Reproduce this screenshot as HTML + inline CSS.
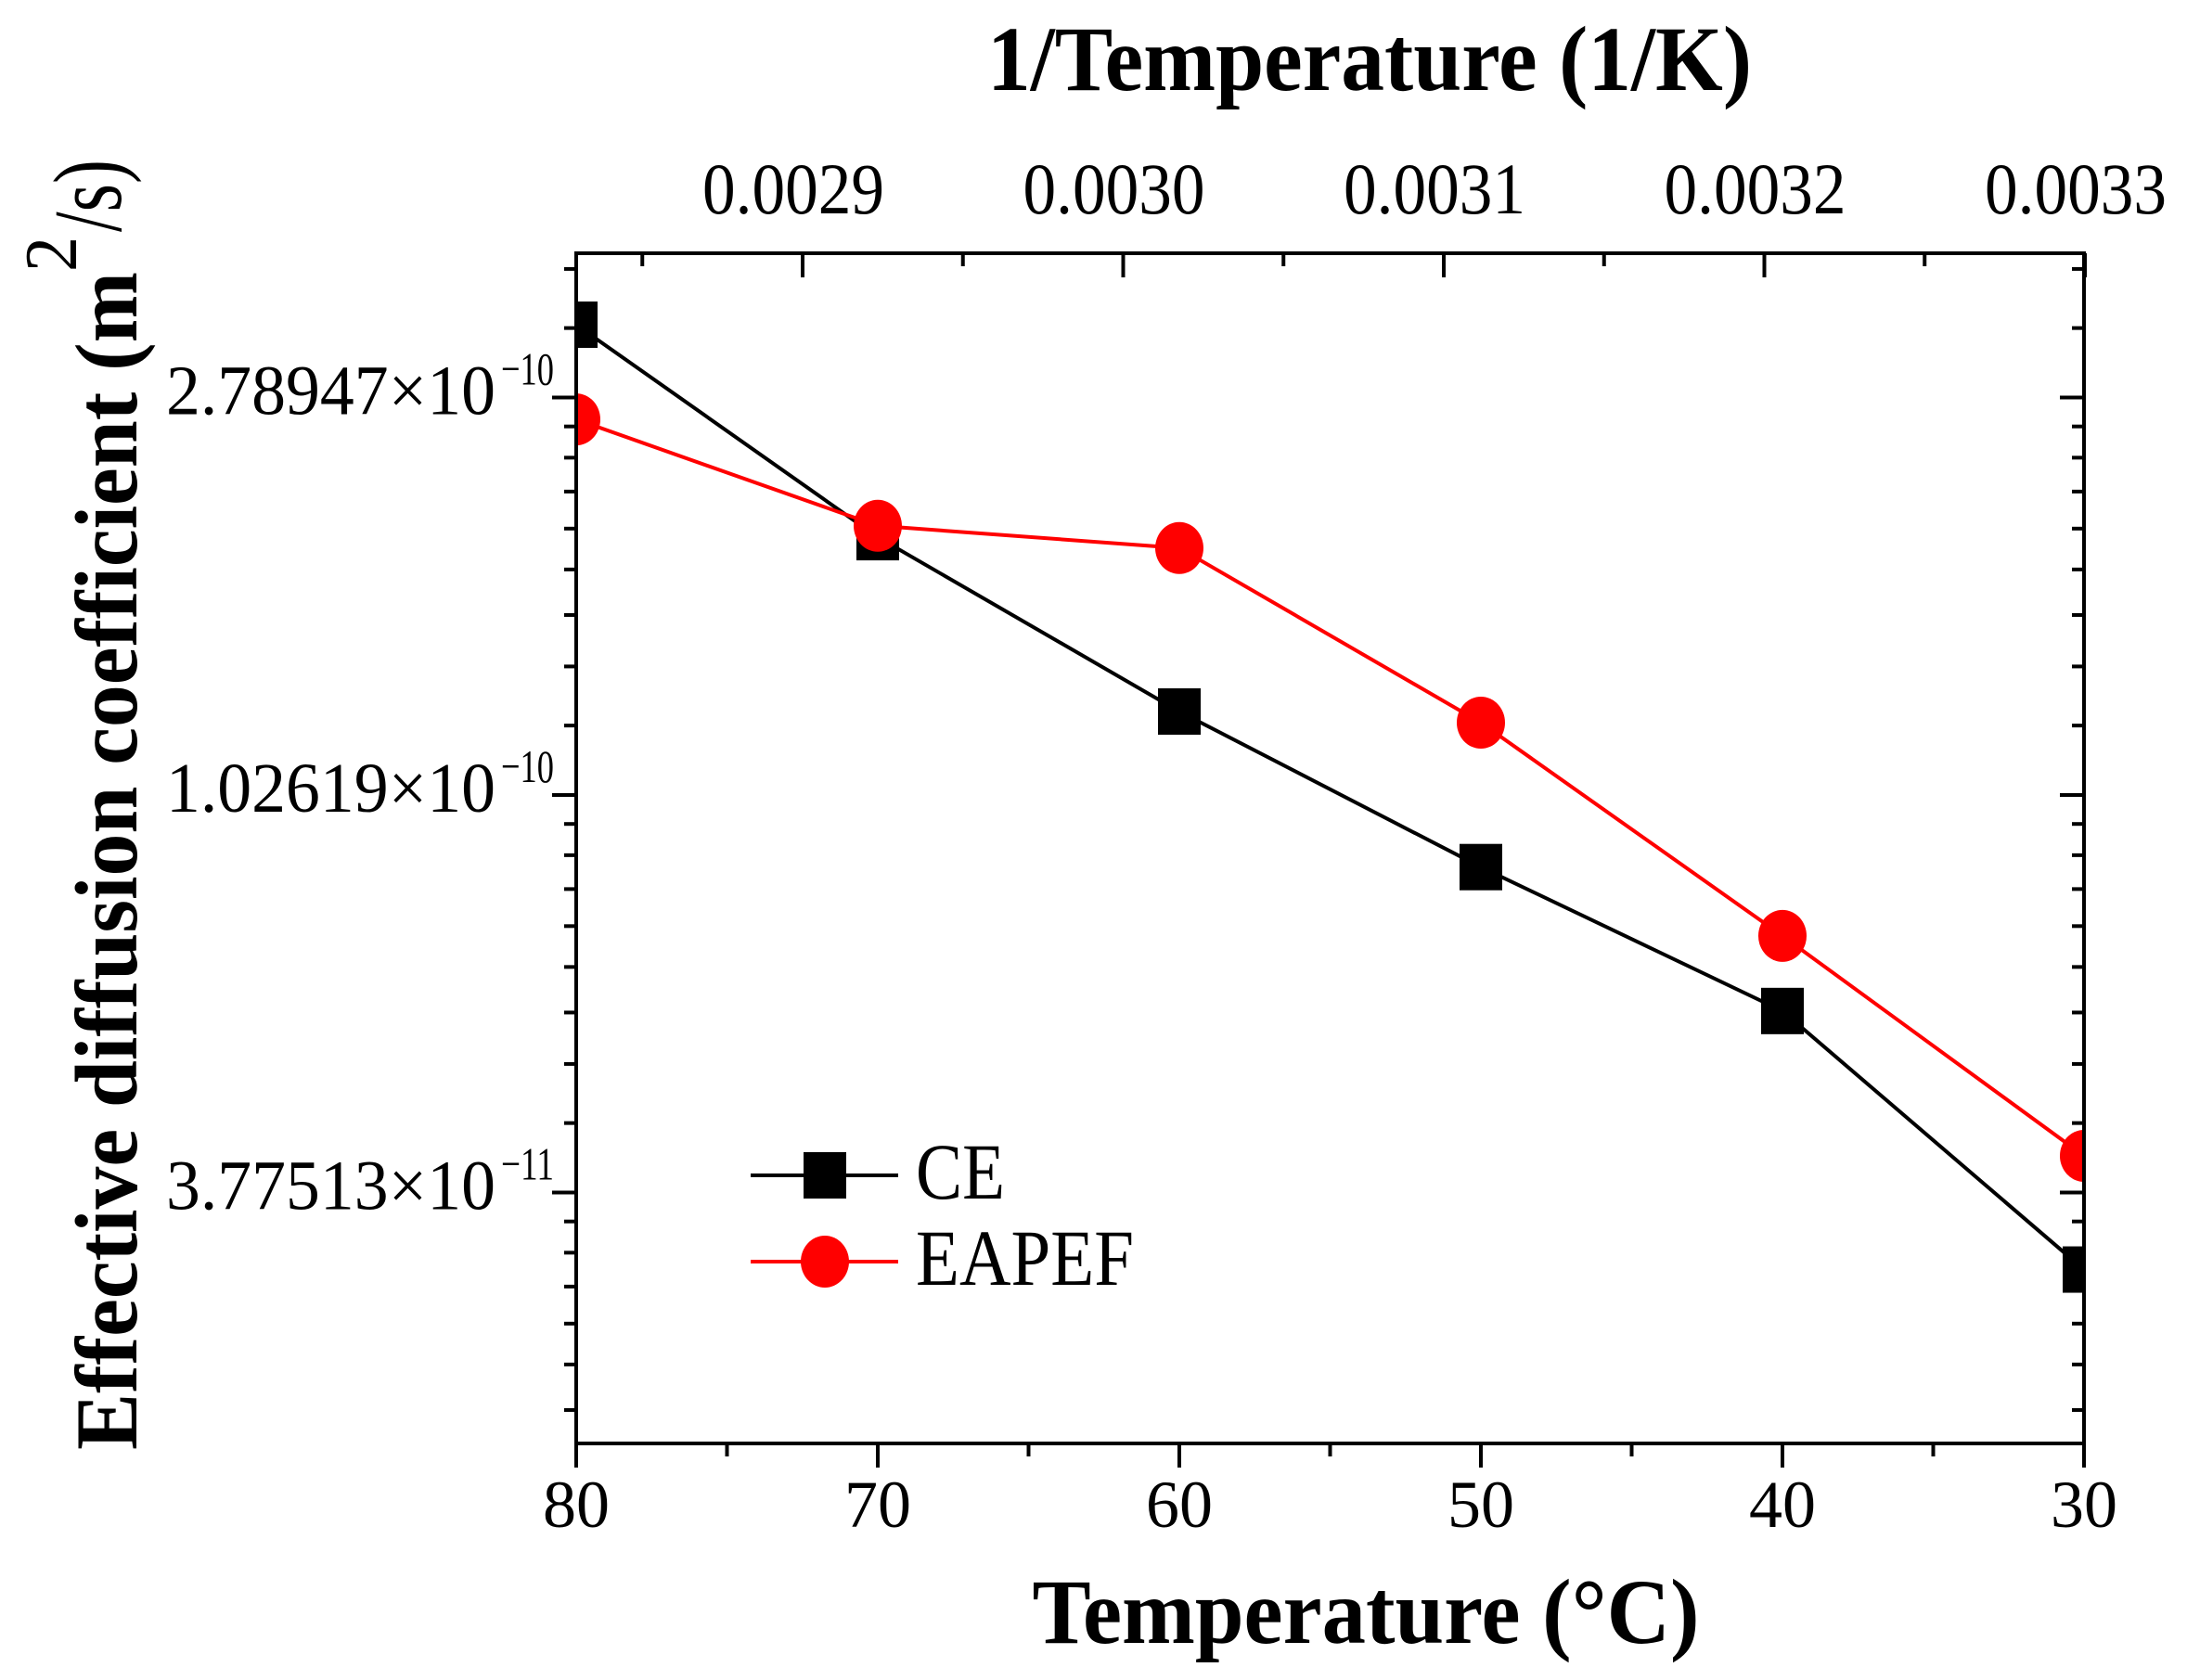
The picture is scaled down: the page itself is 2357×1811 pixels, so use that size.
<!DOCTYPE html>
<html><head><meta charset="utf-8"><style>
html,body{margin:0;padding:0;background:#fff;}
svg{display:block;font-family:"Liberation Serif",serif;}
</style></head><body>
<svg id="chart" width="2357" height="1811" viewBox="0 0 2357 1811" xmlns="http://www.w3.org/2000/svg">
<defs><clipPath id="plotclip"><rect x="621" y="273" width="1625" height="1283"/></clipPath></defs>
<rect x="0" y="0" width="2357" height="1811" fill="#fff"/>
<g id="grid-ticks"></g>
<g id="series" clip-path="url(#plotclip)"></g>
<rect x="621" y="273" width="1625" height="1283" fill="none" stroke="#000" stroke-width="4"/>
<g id="labels"></g>
<text x="1476" y="97" font-size="100" font-weight="bold" text-anchor="middle" textLength="824" lengthAdjust="spacingAndGlyphs">1/Temperature (1/K)</text>
<text x="1472" y="1771" font-size="100" font-weight="bold" text-anchor="middle" textLength="719" lengthAdjust="spacingAndGlyphs">Temperature (°C)</text>
<g>
<text transform="translate(147,1563) rotate(-90)" font-size="95" font-weight="bold" textLength="1270" lengthAdjust="spacingAndGlyphs">Effective diffusion coefficient (m</text>
<text transform="translate(82,293) rotate(-90)" font-size="80" textLength="38" lengthAdjust="spacingAndGlyphs">2</text>
<text transform="translate(130,250) rotate(-90)" font-size="105" textLength="78" lengthAdjust="spacingAndGlyphs">/s)</text>
</g>
<g>
<g>
<line x1="809" y1="1267" x2="968" y2="1267" stroke="#000" stroke-width="4"/>
<rect x="866" y="1242" width="46" height="50" fill="#000"/>
<text x="987" y="1292" font-size="86" textLength="96" lengthAdjust="spacingAndGlyphs">CE</text>
</g>
<g>
<line x1="809" y1="1360" x2="968" y2="1360" stroke="#f00" stroke-width="4"/>
<ellipse cx="889" cy="1360" rx="26" ry="28" fill="#f00"/>
<text x="987" y="1385" font-size="86" textLength="235" lengthAdjust="spacingAndGlyphs">EAPEF</text>
</g>
</g>
</svg>
<script>
const temps = [80, 70, 60, 50, 40, 30];
const ceValues = [3.35e-10, 1.963e-10, 1.266e-10, 8.56e-11, 5.96e-11, 3.11e-11];
const eapefValues = [2.64e-10, 2.02e-10, 1.91e-10, 1.231e-10, 7.20e-11, 4.14e-11];
const xTicks = [80, 70, 60, 50, 40, 30];
const yTickValues = [2.78947e-10, 1.02619e-10, 3.77513e-11];
const yTickMantissa = ["2.78947", "1.02619", "3.77513"];
const yTickExp = ["\u221210", "\u221210", "\u221211"];
const topTicks = [0.0029, 0.0030, 0.0031, 0.0032, 0.0033];
const topTickLabels = ["0.0029", "0.0030", "0.0031", "0.0032", "0.0033"];

const NS = "http://www.w3.org/2000/svg";
const L = 621, R = 2246, T = 273, B = 1556;
function xScale(t){ return L + (80 - t) / 50 * (R - L); }
const refY = 857, refV = 1.02619e-10, pxPerE = 428.5;
function yScale(v){ return refY - Math.log(v / refV) * pxPerE; }
function topScale(v){ return 865 + (v - 0.0029) / 0.0001 * 345.5; }
function mk(tag, attrs, parent){ const e = document.createElementNS(NS, tag); for (const k in attrs) e.setAttribute(k, attrs[k]); parent.appendChild(e); return e; }

const tg = document.getElementById('grid-ticks');
const lg = document.getElementById('labels');
for (let t = 80; t >= 30; t -= 5) {
  const x = xScale(t), major = t % 10 === 0;
  const tk = mk('line', {x1:x, y1:B, x2:x, y2:B + (major ? 26 : 14), stroke:'#000', 'stroke-width':4}, tg);
  
  
}
xTicks.forEach(t => {
  const tx = mk('text', {x:xScale(t), y:1646, 'font-size':72, 'text-anchor':'middle'}, lg);
  tx.textContent = String(t);
  
  
});
for (let v = 0.00285; v <= 0.00331; v += 0.00005) {
  const x = topScale(v); if (x < L + 2 || x > R + 2) continue;
  const major = Math.abs(Math.round(v * 10000) - v * 10000) < 1e-6;
  const tk = mk('line', {x1:x, y1:T, x2:x, y2:T + (major ? 26 : 14), stroke:'#000', 'stroke-width':4}, tg);
  
  
}
topTicks.forEach((v, i) => {
  const tx = mk('text', {x:topScale(v) - 10, y:230, 'font-size':78, 'text-anchor':'middle', textLength:196, lengthAdjust:'spacingAndGlyphs'}, lg);
  tx.textContent = topTickLabels[i];
  
  
});
const E = Math.E;
for (let n = -3; n <= 2; n++) {
  const base = refV * Math.pow(E, n);
  for (let k = 0; k < 9; k++) {
    const v = base * (1 + k * (E - 1) / 9);
    const y = yScale(v);
    if (y < T + 3 || y > B - 3) continue;
    const len = k === 0 ? 26 : 13;
    const a = mk('line', {x1:L, y1:y, x2:L - len, y2:y, stroke:'#000', 'stroke-width':4}, tg);
    
    
    const b = mk('line', {x1:R, y1:y, x2:R - len, y2:y, stroke:'#000', 'stroke-width':4}, tg);
    
    
  }
}
yTickValues.forEach((v, i) => {
  const y = yScale(v);
  const g = mk('g', {}, lg);
  
  
  const m = mk('text', {x:179, y:y + 18, 'font-size':76, textLength:355, lengthAdjust:'spacingAndGlyphs'}, g);
  m.textContent = yTickMantissa[i] + "\u00d710";
  const s = mk('text', {x:540, y:y - 14, 'font-size':50, textLength:57, lengthAdjust:'spacingAndGlyphs'}, g);
  s.textContent = yTickExp[i];
});
const sg = document.getElementById('series');
function pts(vals){ return temps.map((t, i) => xScale(t) + ',' + yScale(vals[i])).join(' '); }
const ceLine = mk('polyline', {points:pts(ceValues), fill:'none', stroke:'#000', 'stroke-width':4}, sg);


const eaLine = mk('polyline', {points:pts(eapefValues), fill:'none', stroke:'#f00', 'stroke-width':4}, sg);


temps.forEach((t, i) => {
  const r = mk('rect', {x:xScale(t) - 23, y:yScale(ceValues[i]) - 25, width:46, height:50, fill:'#000'}, sg);
  
  
});
temps.forEach((t, i) => {
  const c = mk('ellipse', {cx:xScale(t), cy:yScale(eapefValues[i]), rx:26, ry:28, fill:'#f00'}, sg);
  
  
});
</script>
</body></html>
